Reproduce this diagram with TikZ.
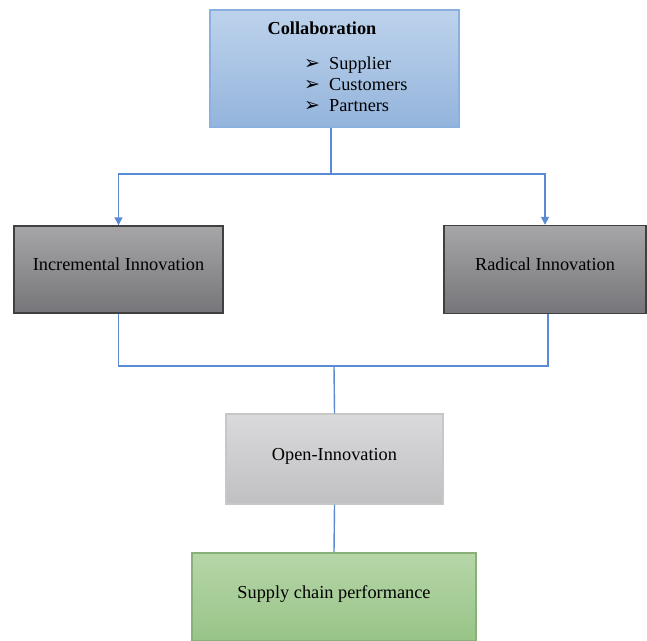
\documentclass[tikz,border=0pt]{standalone}
\usepackage{fontspec}
\setmainfont{Liberation Serif}
\newfontfamily\symfont{DejaVu Sans}
\usetikzlibrary{arrows.meta}

\definecolor{linkblue}{HTML}{5A8AD2}
\definecolor{blueTop}{HTML}{BDD3EC}
\definecolor{blueBot}{HTML}{94B4DC}
\definecolor{blueEdge}{HTML}{8AB0E0}
\definecolor{darkTop}{HTML}{A6A6A8}
\definecolor{darkBot}{HTML}{76767A}
\definecolor{lightTop}{HTML}{DADADC}
\definecolor{lightBot}{HTML}{C0C0C2}
\definecolor{greenTop}{HTML}{B6D6A8}
\definecolor{greenBot}{HTML}{98C487}

\newcommand{\bulletmark}{{\symfont\fontsize{19}{21}\selectfont ➢}}

\tikzset{
    box/.style={rectangle, inner sep=0pt, text height=12pt, text depth=10pt,
        font=\fontsize{18.3}{22}\selectfont},
    conn/.style={draw=linkblue, line width=1.4pt},
    arr/.style={conn, -{Triangle[length=8pt,width=8pt]}}
}

\begin{document}
\begin{tikzpicture}[x=1pt,y=-1pt]
    \useasboundingbox (0,0) rectangle (647,640);
    % boxes
    \node[box, draw=blueEdge, line width=1.2pt, top color=blueTop, bottom color=blueBot,
        minimum width=249pt, minimum height=117pt] (collab) at (334.5,68.5) {};
    \node[box, anchor=center] (collabtitle) at (322,33) {\bfseries Collaboration};
    \node[anchor=north west, inner sep=0pt, align=left,
        font=\fontsize{18.3}{21}\selectfont] (collablist) at (304,57)
        {\bulletmark\hspace{9pt}Supplier\\
         \bulletmark\hspace{9pt}Customers\\
         \bulletmark\hspace{9pt}Partners};
    \node[box, draw=black!75, line width=1.4pt, top color=darkTop, bottom color=darkBot,
        minimum width=209pt, minimum height=87pt] (incr) at (118.5,269.5) {Incremental Innovation};
    \node[box, draw=black!75, line width=1.4pt, top color=darkTop, bottom color=darkBot,
        minimum width=202pt, minimum height=88pt] (radical) at (545,269.5) {Radical Innovation};
    \node[box, draw=black!22, line width=1.2pt, top color=lightTop, bottom color=lightBot,
        minimum width=217pt, minimum height=90pt] (open) at (334.5,459) {Open-Innovation};
    \node[box, draw=greenBot!90!black, line width=1.2pt, top color=greenTop, bottom color=greenBot,
        minimum width=284pt, minimum height=88pt] (scp) at (334,597) {Supply chain performance};

    %Lines
    \coordinate (split) at (331,174);
    \coordinate (join) at (334,366);
    \draw[conn] (collab.south -| split) -- (split);
    \draw[arr] (split) -| (incr.north);
    \draw[arr] (split) -| (radical.north);
    \draw[conn] (incr.south) |- (join) -| ([xshift=3pt]radical.south);
    \draw[conn] (join) -- (open.north);
    \draw[conn] (open.south) -- (scp.north);
\end{tikzpicture}
\end{document}
